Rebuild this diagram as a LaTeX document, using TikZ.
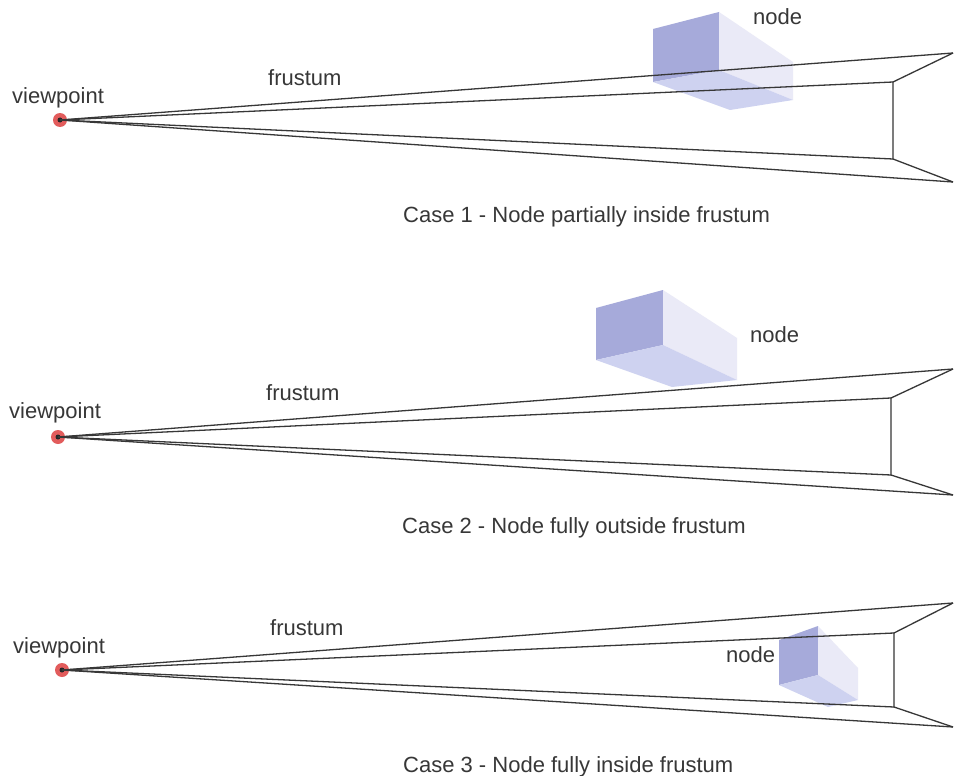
\documentclass[tikz,border=0pt]{standalone}
\usepackage{fontspec}
\setmainfont{Liberation Sans}
\definecolor{facefront}{RGB}{166,170,218}
\definecolor{faceside}{RGB}{234,234,247}
\definecolor{facebottom}{RGB}{206,210,240}
\definecolor{eyered}{RGB}{226,92,92}
\definecolor{inkgray}{RGB}{55,55,55}
\begin{document}
\begin{tikzpicture}[x=1pt,y=-1pt,
  lbl/.style={anchor=base west, inner sep=0pt, font=\fontsize{22}{26}\selectfont, text=inkgray},
  ray/.style={draw=inkgray, line width=1.3pt, line join=round},
  eye/.style={circle, fill=eyered, inner sep=0pt, minimum size=14pt},
  pupil/.style={circle, fill=black!85, inner sep=0pt, minimum size=5pt}
]
\useasboundingbox[fill=white] (0,0) rectangle (954,776);

% ---------- Case 1 ----------
\fill[facefront]  (653,29) -- (719,12) -- (719,70) -- (653,82) -- cycle;
\fill[faceside]   (719,12) -- (793,62) -- (793,100) -- (719,70) -- cycle;
\fill[facebottom] (653,82) -- (719,70) -- (793,100) -- (730,110) -- cycle;
\node[eye] (v1) at (60,120) {};
\node[pupil] at (v1.center) {};
\coordinate (t1) at (953,53);
\coordinate (p1) at (893,82);
\coordinate (q1) at (893,159);
\coordinate (b1) at (953,182);
\draw[ray] (v1.center) -- (t1);
\draw[ray] (v1.center) -- (p1);
\draw[ray] (v1.center) -- (q1);
\draw[ray] (v1.center) -- (b1);
\draw[ray] (t1) -- (p1) -- (q1) -- (b1);
\node[lbl] (vp1) at (12,103) {viewpoint};
\node[lbl] (fr1) at (268,85) {frustum};
\node[lbl] (nd1) at (753,25) {node};
\node[lbl] (cap1) at (403,222) {Case 1 - Node partially inside frustum};

% ---------- Case 2 ----------
\fill[facefront]  (596,308) -- (663,290) -- (663,345) -- (596,360) -- cycle;
\fill[faceside]   (663,290) -- (737,338) -- (737,380) -- (663,345) -- cycle;
\fill[facebottom] (596,360) -- (663,345) -- (737,380) -- (672,387) -- cycle;
\node[eye] (v2) at (58,437) {};
\node[pupil] at (v2.center) {};
\coordinate (t2) at (953,369);
\coordinate (p2) at (891,398);
\coordinate (q2) at (891,475);
\coordinate (b2) at (953,495);
\draw[ray] (v2.center) -- (t2);
\draw[ray] (v2.center) -- (p2);
\draw[ray] (v2.center) -- (q2);
\draw[ray] (v2.center) -- (b2);
\draw[ray] (t2) -- (p2) -- (q2) -- (b2);
\node[lbl] (vp2) at (9,418) {viewpoint};
\node[lbl] (fr2) at (266,400) {frustum};
\node[lbl] (nd2) at (750,342) {node};
\node[lbl] (cap2) at (402,533) {Case 2 - Node fully outside frustum};

% ---------- Case 3 ----------
\fill[facefront]  (779,640) -- (818,626) -- (818,675) -- (779,685) -- cycle;
\fill[faceside]   (818,626) -- (858,668) -- (858,700) -- (818,675) -- cycle;
\fill[facebottom] (779,685) -- (818,675) -- (858,700) -- (828,707) -- cycle;
\node[eye] (v3) at (62,670) {};
\node[pupil] at (v3.center) {};
\coordinate (t3) at (953,603);
\coordinate (p3) at (894,633);
\coordinate (q3) at (894,707);
\coordinate (b3) at (953,727);
\draw[ray] (v3.center) -- (t3);
\draw[ray] (v3.center) -- (p3);
\draw[ray] (v3.center) -- (q3);
\draw[ray] (v3.center) -- (b3);
\draw[ray] (t3) -- (p3) -- (q3) -- (b3);
\node[lbl] (vp3) at (13,653) {viewpoint};
\node[lbl] (fr3) at (270,635) {frustum};
\node[lbl] (nd3) at (726,662) {node};
\node[lbl] (cap3) at (403,772) {Case 3 - Node fully inside frustum};
\end{tikzpicture}
\end{document}
